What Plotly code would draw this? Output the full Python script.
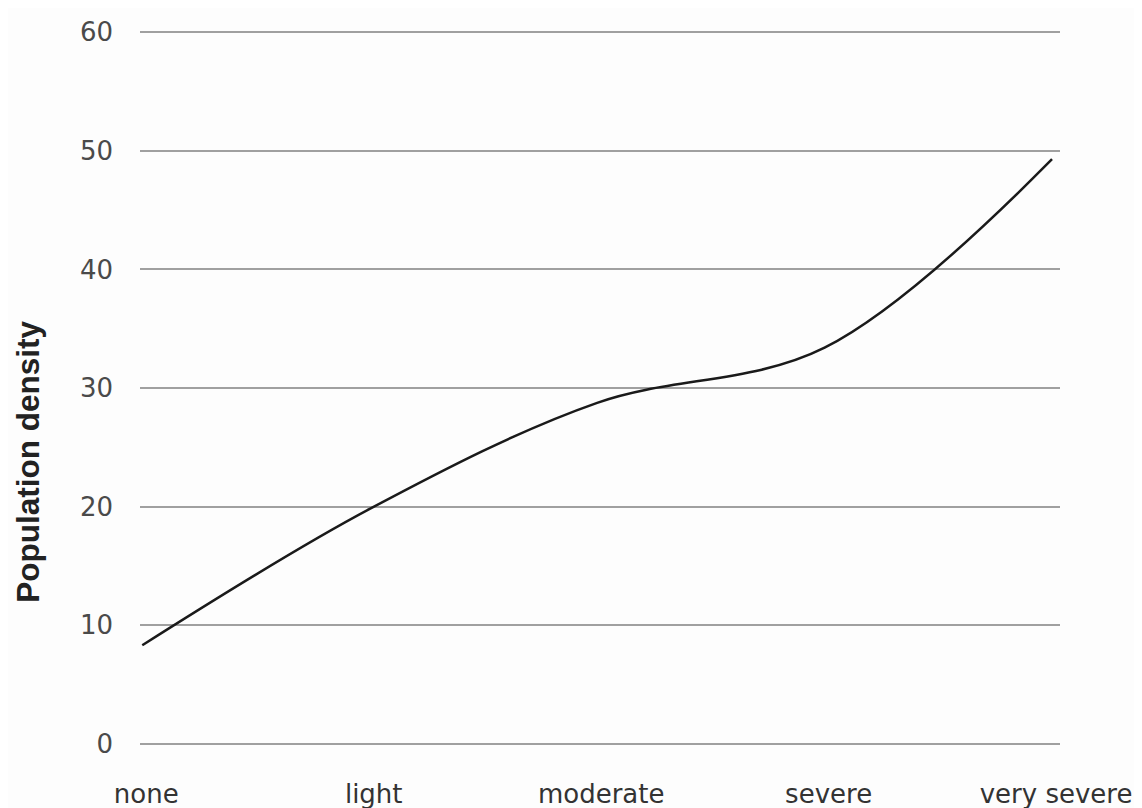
import plotly.graph_objects as go

categories = ["none", "light", "moderate", "severe", "very severe"]
density = [8.3, 19.8, 28.75, 33.4, 49.3]
y_ticks = [0, 10, 20, 30, 40, 50, 60]

fig = go.Figure()
fig.add_trace(go.Scatter(
    x=categories, y=density, mode="lines",
    line=dict(color="#1a1a1a", width=2.5, shape="spline", smoothing=1.0),
    showlegend=False, hoverinfo="skip",
))

tick_font = "DejaVu Sans, Liberation Sans, Arial, sans-serif"
title_font = "Liberation Sans, Arial, sans-serif"
fig.update_layout(
    width=1142, height=808,
    margin=dict(l=132, r=90, t=22, b=70),
    paper_bgcolor="#fdfdfd", plot_bgcolor="#fdfdfd",
    font=dict(family=tick_font, size=26, color="#444444"),
    xaxis=dict(
        type="category", range=[-0.01, 4.035], automargin=False,
        showgrid=False, zeroline=False, showline=False, ticks="",
        tickfont=dict(family=tick_font, size=26, color="#333333"),
        ticklabelshift=4, ticklabelstandoff=30,
    ),
    yaxis=dict(
        range=[-0.2, 60.2], tickvals=y_ticks, automargin=False,
        showgrid=True, gridcolor="#a0a0a0", gridwidth=2,
        zeroline=False, showline=False, ticks="",
        tickfont=dict(family=tick_font, size=26, color="#4a4a4a"),
        ticklabelstandoff=26,
    ),
    annotations=[dict(
        text="<b>Population density</b>", xref="paper", yref="paper",
        x=-0.1217, y=0.397, xanchor="center", yanchor="middle",
        textangle=-90, showarrow=False,
        font=dict(family=title_font, size=31.5, color="#222222"),
    )],
)

fig.write_html("out.html")
